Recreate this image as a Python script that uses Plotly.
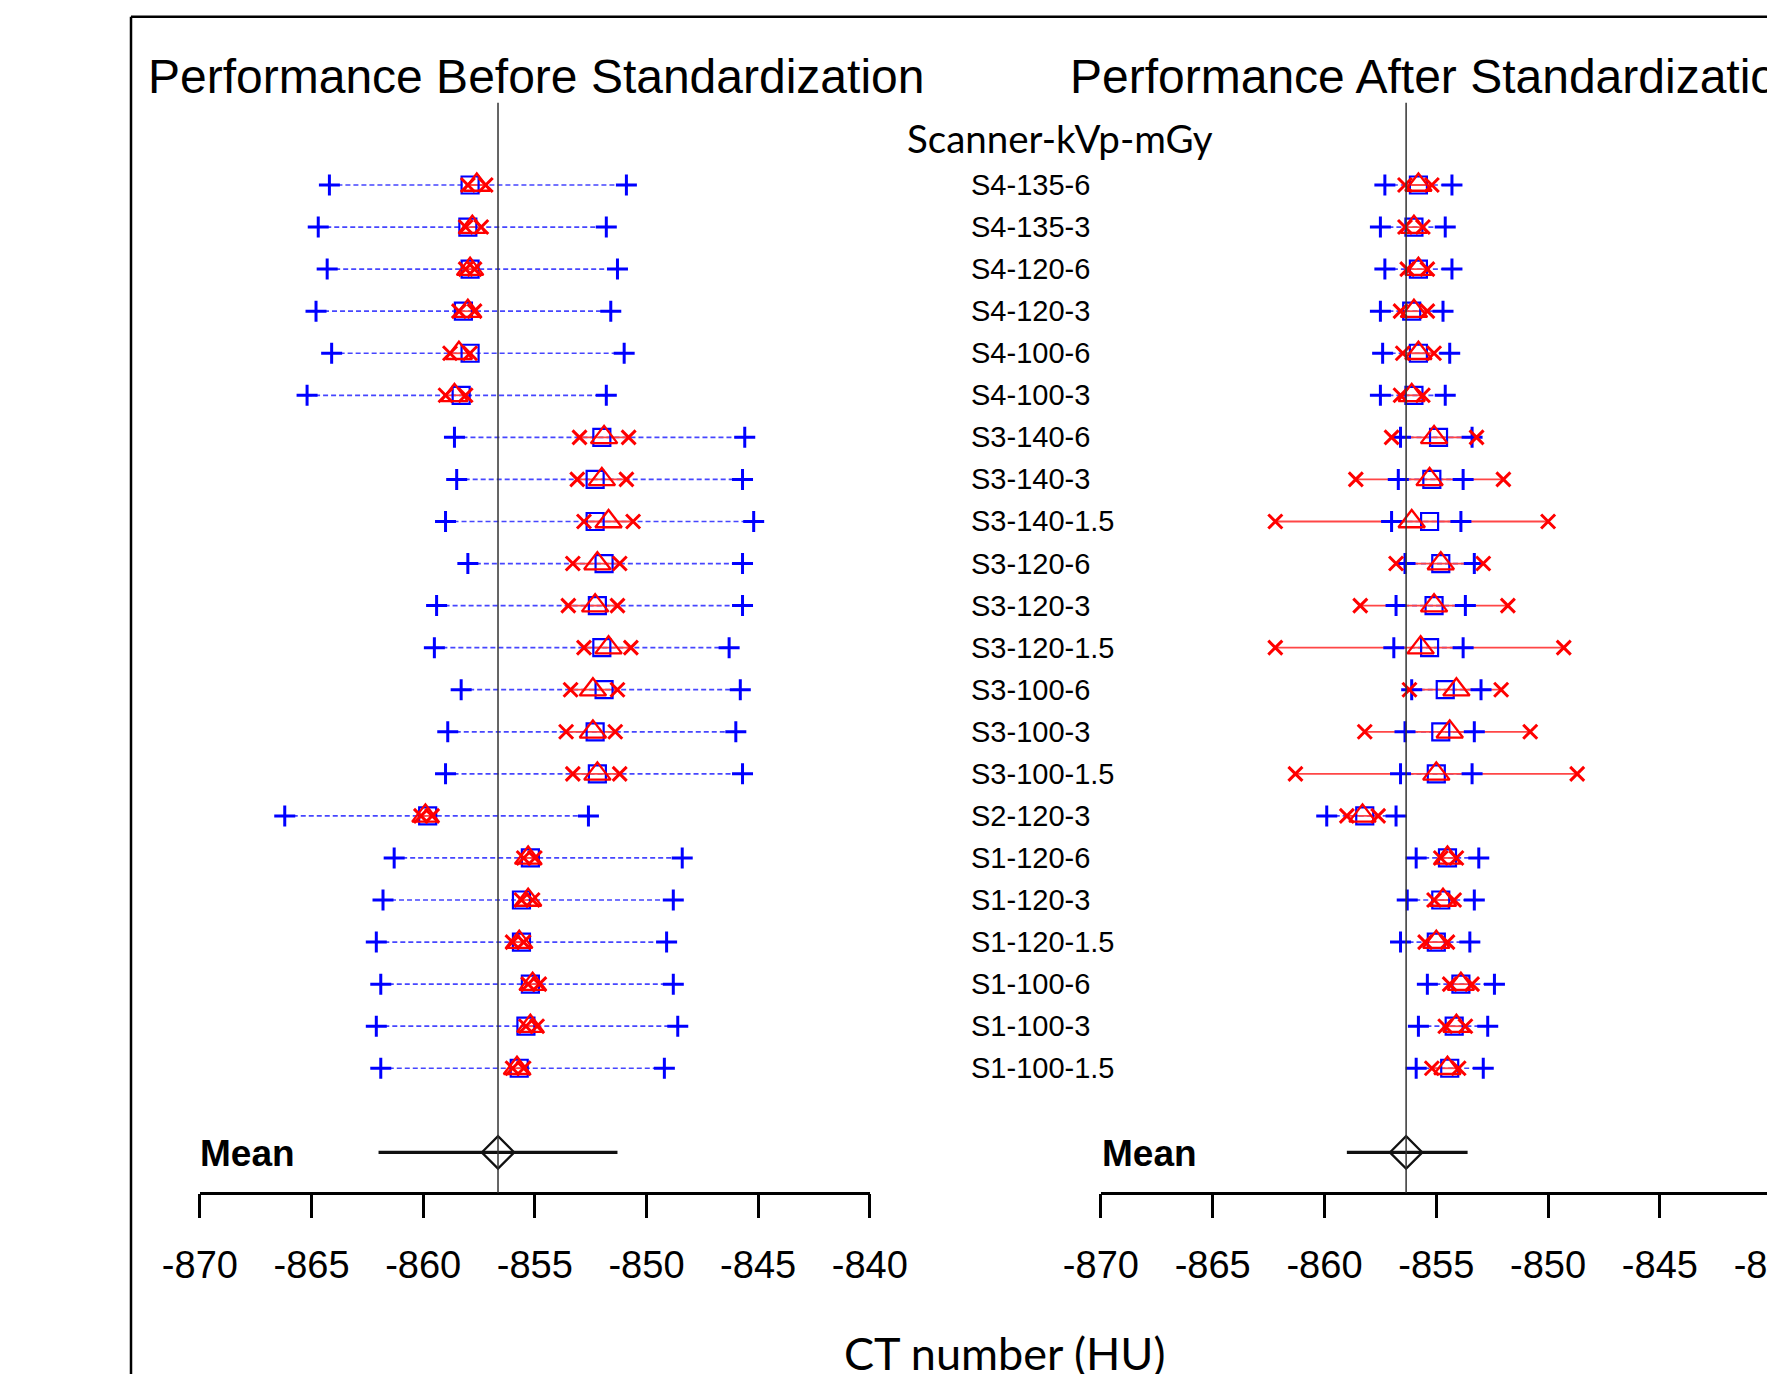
import plotly.graph_objects as go

# ---------------- data ----------------
labels = ["S4-135-6", "S4-135-3", "S4-120-6", "S4-120-3", "S4-100-6", "S4-100-3",
          "S3-140-6", "S3-140-3", "S3-140-1.5", "S3-120-6", "S3-120-3", "S3-120-1.5",
          "S3-100-6", "S3-100-3", "S3-100-1.5", "S2-120-3",
          "S1-120-6", "S1-120-3", "S1-120-1.5", "S1-100-6", "S1-100-3", "S1-100-1.5"]

# Before standardization
before_blue_lo = [-864.2, -864.7, -864.3, -864.8, -864.1, -865.2, -858.6, -858.5, -859.0, -858.0, -859.4,
                  -859.5, -858.3, -858.9, -859.0, -866.2, -861.3, -861.8, -862.1, -861.9, -862.1, -861.9]
before_blue_hi = [-850.9, -851.8, -851.3, -851.6, -851.0, -851.8, -845.6, -845.7, -845.2, -845.7, -845.7,
                  -846.3, -845.8, -846.0, -845.7, -852.6, -848.4, -848.8, -849.1, -848.8, -848.6, -849.2]
before_blue_mean = [-857.9, -858.0, -857.9, -858.2, -857.9, -858.3, -852.0, -852.3, -852.3, -851.9, -852.2,
                    -852.0, -851.9, -852.3, -852.2, -859.8, -855.2, -855.6, -855.6, -855.2, -855.4, -855.7]
before_red_lo = [-858.0, -858.1, -858.1, -858.4, -858.8, -859.0, -853.0, -853.1, -852.8, -853.3, -853.5,
                 -852.8, -853.4, -853.6, -853.3, -860.1, -855.5, -855.6, -856.0, -855.3, -855.4, -856.0]
before_red_hi = [-857.2, -857.4, -857.7, -857.7, -857.9, -858.1, -850.8, -850.9, -850.6, -851.2, -851.3,
                 -850.7, -851.3, -851.4, -851.2, -859.6, -855.0, -855.1, -855.5, -854.8, -854.9, -855.5]
before_red_mean = [-857.6, -857.8, -857.9, -858.0, -858.4, -858.6, -851.9, -852.0, -851.7, -852.2, -852.3,
                   -851.7, -852.4, -852.4, -852.2, -859.9, -855.3, -855.3, -855.7, -855.1, -855.2, -855.8]

# After standardization
after_blue_lo = [-857.3, -857.5, -857.3, -857.5, -857.4, -857.5, -856.6, -856.7, -857.0, -856.4, -856.8,
                 -856.9, -856.1, -856.4, -856.6, -859.9, -855.9, -856.3, -856.6, -855.4, -855.8, -855.9]
after_blue_hi = [-854.3, -854.6, -854.3, -854.7, -854.4, -854.6, -853.4, -853.8, -853.9, -853.3, -853.7,
                 -853.8, -853.0, -853.3, -853.4, -856.8, -853.1, -853.3, -853.5, -852.4, -852.7, -852.9]
after_blue_mean = [-855.8, -856.0, -855.8, -856.1, -855.8, -856.0, -854.9, -855.2, -855.3, -854.8, -855.1,
                   -855.3, -854.6, -854.8, -855.0, -858.2, -854.5, -854.8, -855.0, -853.9, -854.2, -854.4]
after_red_lo = [-856.4, -856.4, -856.3, -856.6, -856.5, -856.6, -857.0, -858.6, -862.2, -856.8, -858.4,
                -862.2, -856.2, -858.2, -861.3, -859.0, -854.8, -855.1, -855.5, -854.4, -854.6, -855.2]
after_red_hi = [-855.2, -855.6, -855.4, -855.4, -855.1, -855.6, -853.2, -852.0, -850.0, -852.9, -851.8,
                -849.3, -852.1, -850.8, -848.7, -857.6, -854.1, -854.2, -854.5, -853.4, -853.7, -854.0]
after_red_mean = [-855.8, -856.0, -855.8, -856.0, -855.8, -856.1, -855.1, -855.3, -856.1, -854.8, -855.1,
                  -855.7, -854.1, -854.4, -855.0, -858.3, -854.5, -854.7, -855.0, -853.9, -854.1, -854.5]

mean_before, mean_before_lo, mean_before_hi = -856.65, -862.0, -851.3
mean_after, mean_after_lo, mean_after_hi = -856.35, -859.0, -853.6

tick_vals = [-870, -865, -860, -855, -850, -845, -840]
tick_text = ["-870", "-865", "-860", "-855", "-850", "-845", "-840"]

# ---------------- layout geometry ----------------
W, H = 1775, 1374
OFF = 8  # page body margin: figure is drawn 8px right/down of page origin


def fx(p):  # page px -> paper fraction (x)
    return (p - OFF) / W


def fy(p):  # page px -> paper fraction (y)
    return 1 - (p - OFF) / H


ROW0, DY = 185.0 - OFF, 42.06


def ypx(p):  # page px -> data y
    return (p - OFF - ROW0) / DY


rows = list(range(len(labels)))
mean_row = len(labels) + 1
AXIS_PX = 1192.7

BLUE = "#0000FF"
RED = "#FF0000"

fig = go.Figure()


def add_panel(xa, blo, bhi, bm, rlo, rhi, rm, mean, mlo, mhi):
    xs, ys = [], []
    for i in rows:
        xs += [blo[i], bhi[i], None]
        ys += [i, i, None]
    fig.add_trace(go.Scatter(x=xs, y=ys, xaxis=xa, yaxis="y", mode="lines",
                             line=dict(color="rgb(70,70,255)", width=1.7, dash="5px,3px"),
                             hoverinfo="skip"))
    xs, ys = [], []
    for i in rows:
        xs += [rlo[i], rhi[i], None]
        ys += [i, i, None]
    fig.add_trace(go.Scatter(x=xs, y=ys, xaxis=xa, yaxis="y", mode="lines",
                             line=dict(color="rgb(255,70,70)", width=1.8), hoverinfo="skip"))
    fig.add_trace(go.Scatter(x=blo + bhi, y=rows + rows, xaxis=xa, yaxis="y", mode="markers",
                             marker=dict(symbol="cross-thin-open", size=15, color=BLUE,
                                         line=dict(color=BLUE, width=3))))
    fig.add_trace(go.Scatter(x=bm, y=rows, xaxis=xa, yaxis="y", mode="markers",
                             marker=dict(symbol="square-open", size=17, color=BLUE,
                                         line=dict(color=BLUE, width=2.2))))
    fig.add_trace(go.Scatter(x=rlo + rhi, y=rows + rows, xaxis=xa, yaxis="y", mode="markers",
                             marker=dict(symbol="x-thin-open", size=14, color=RED,
                                         line=dict(color=RED, width=3))))
    fig.add_trace(go.Scatter(x=rm, y=rows, xaxis=xa, yaxis="y", mode="markers",
                             marker=dict(symbol="triangle-up-open", size=23, color=RED,
                                         line=dict(color=RED, width=2.3))))
    fig.add_shape(type="line", xref=xa, yref="y", x0=mean, x1=mean,
                  y0=ypx(102.7), y1=ypx(AXIS_PX), line=dict(color="#333333", width=1.5))
    fig.add_trace(go.Scatter(x=[mlo, mhi], y=[mean_row, mean_row], xaxis=xa, yaxis="y",
                             mode="lines", line=dict(color="#111111", width=3.2)))
    fig.add_trace(go.Scatter(x=[mean], y=[mean_row], xaxis=xa, yaxis="y", mode="markers",
                             marker=dict(symbol="diamond-open", size=25, color="#111111",
                                         line=dict(color="#111111", width=2.2))))


add_panel("x", before_blue_lo, before_blue_hi, before_blue_mean,
          before_red_lo, before_red_hi, before_red_mean,
          mean_before, mean_before_lo, mean_before_hi)
add_panel("x2", after_blue_lo, after_blue_hi, after_blue_mean,
          after_red_lo, after_red_hi, after_red_mean,
          mean_after, mean_after_lo, mean_after_hi)

axis_common = dict(range=[-870, -840], anchor="free", position=fy(AXIS_PX),
                   automargin=False, ticklabeloverflow="allow",
                   showline=True, linewidth=2.5, linecolor="black",
                   ticks="outside", ticklen=24, tickwidth=2.5, tickcolor="black",
                   tickvals=tick_vals, ticktext=tick_text,
                   tickfont=dict(family="Liberation Sans, Arial", size=38, color="black"),
                   ticklabelstandoff=14,
                   showgrid=False, zeroline=False, fixedrange=True)

fig.update_layout(
    width=W, height=H,
    margin=dict(l=0, r=0, t=0, b=0, autoexpand=False),
    paper_bgcolor="white", plot_bgcolor="white",
    showlegend=False,
    xaxis=dict(domain=[fx(199.9), fx(869.8)], **axis_common),
    xaxis2=dict(domain=[fx(1100.9), fx(1771.7)], **axis_common),
    yaxis=dict(domain=[0, 1], range=[ypx(H + OFF), ypx(OFF)], visible=False,
               fixedrange=True, automargin=False),
)

ann = []
title_font = dict(family="Liberation Sans, Arial", size=48, color="black")
ann.append(dict(text="Performance Before Standardization", x=fx(146), y=fy(77),
                xanchor="left", yanchor="middle", font=title_font))
ann.append(dict(text="Performance After Standardization", x=fx(1067.5), y=fy(77),
                xanchor="left", yanchor="middle", font=title_font))
ann.append(dict(text="Scanner-kVp-mGy", x=fx(905), y=fy(138.3), xanchor="left",
                yanchor="middle", font=dict(family="Lato, Open Sans", size=38.5, color="black")))
for i, lab in enumerate(labels):
    ann.append(dict(text=lab, x=fx(969), xref="paper", y=i, yref="y", yshift=0,
                    xanchor="left", yanchor="middle",
                    font=dict(family="Liberation Sans, Arial", size=29, color="black")))
mean_font = dict(family="Liberation Sans, Arial", size=37, color="black")
ann.append(dict(text="<b>Mean</b>", x=fx(198), y=fy(1153.3), xanchor="left",
                yanchor="middle", font=mean_font))
ann.append(dict(text="<b>Mean</b>", x=fx(1100), y=fy(1153.3), xanchor="left",
                yanchor="middle", font=mean_font))
ann.append(dict(text="CT number (HU)", x=fx(1004.7), y=fy(1352.7), xanchor="center",
                yanchor="middle", font=dict(family="Lato, Open Sans", size=45, color="black")))
for a in ann:
    a.setdefault("xref", "paper")
    a.setdefault("yref", "paper")
    a["showarrow"] = False
fig.update_layout(annotations=ann)

# outer frame
fig.add_shape(type="line", xref="paper", yref="paper", x0=fx(131), x1=fx(131),
              y0=fy(16.7), y1=fy(H + 20), line=dict(color="black", width=2.5))
fig.add_shape(type="line", xref="paper", yref="paper", x0=fx(131), x1=fx(W + 20),
              y0=fy(16.7), y1=fy(16.7), line=dict(color="black", width=2.5))

fig.write_html("out.html")
